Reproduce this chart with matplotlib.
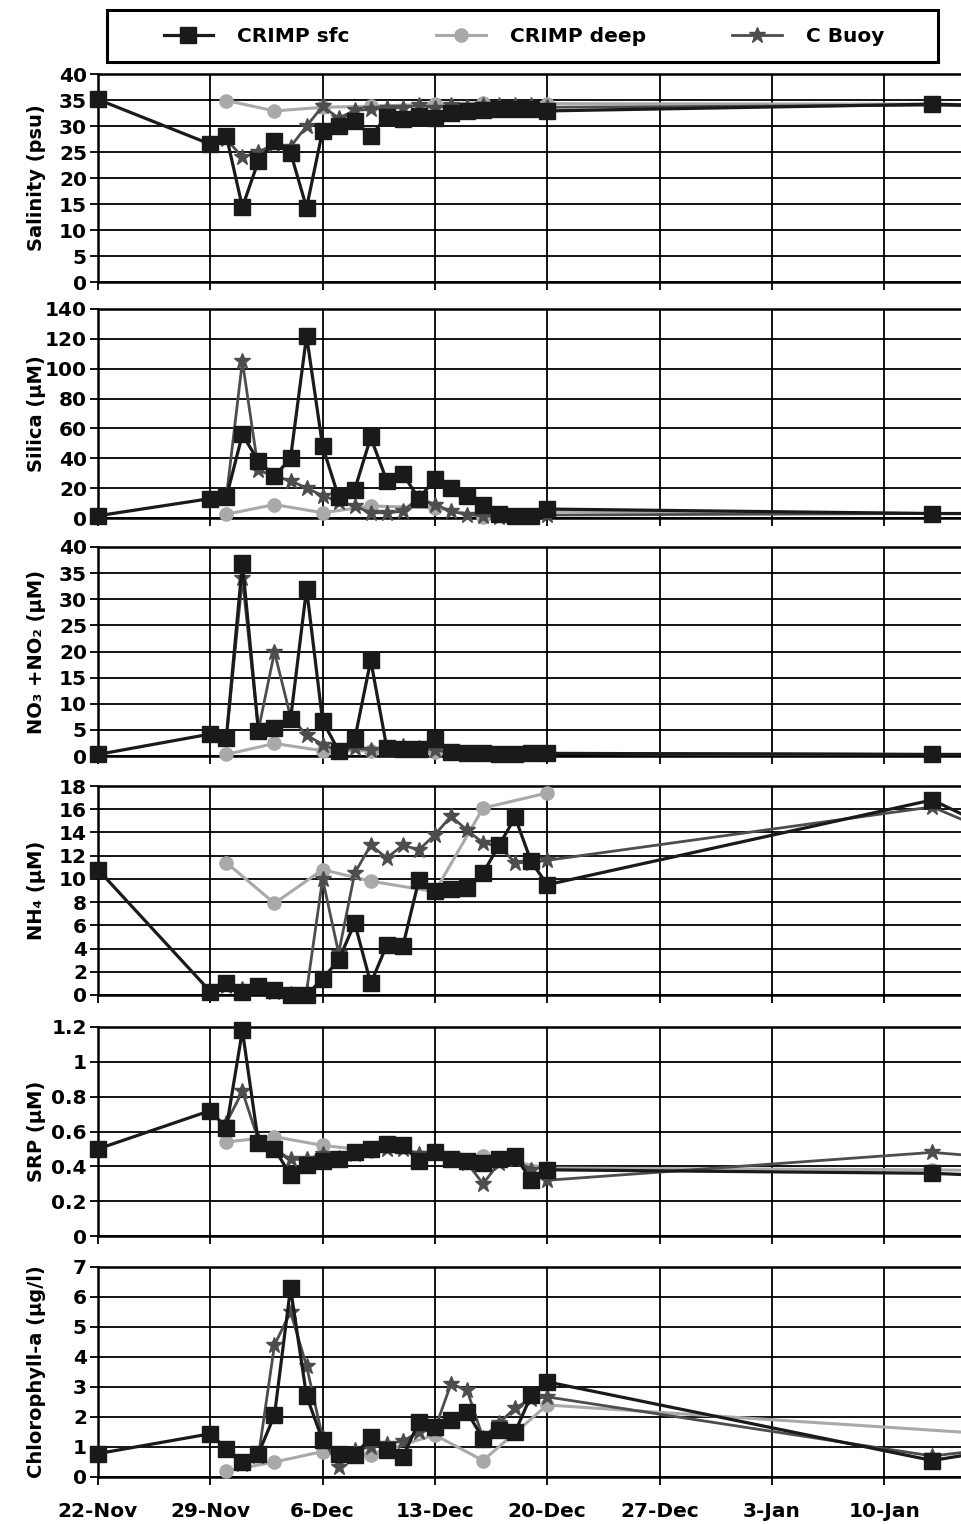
import numpy as np
import matplotlib.pyplot as plt
import matplotlib.dates as mdates
import matplotlib.ticker as mticker
from matplotlib.patches import Rectangle

plt.rcParams['font.family'] = ['DejaVu Sans']
plt.rcParams['font.weight'] = 'bold'
plt.rcParams['axes.labelweight'] = 'bold'

# sampling days, counted from 22-Nov (the 60 day value only carries the line off the right edge)
start = np.datetime64('2008-11-22')
days_sfc = np.array([0, 7, 8, 9, 10, 11, 12, 13, 14, 15, 16, 17, 18, 19, 20, 21, 22, 23, 24, 25, 26, 27, 28, 52, 60])
days_deep = np.array([8, 11, 14, 17, 21, 24, 28, 52, 60])
days_buoy = np.array([8, 9, 10, 11, 12, 13, 14, 15, 16, 17, 18, 19, 20, 21, 22, 23, 24, 25, 26, 27, 28, 52, 60])

tick_dates = ['2008-11-22', '2008-11-29', '2008-12-06', '2008-12-13', '2008-12-20',
              '2008-12-27', '2009-01-03', '2009-01-10']

series_names = ['CRIMP sfc', 'CRIMP deep', 'C Buoy']

# Salinity
sal_sfc = [35.1, 26.5, 28.1, 14.4, 23.3, 27.1, 24.9, 14.3, 29.1, 30.0, 31.0, 28.1, 31.8, 31.3,
           32.0, 31.6, 32.5, 32.9, 33.0, 33.2, 33.3, 33.3, 32.9, 34.2, 33.6]
sal_deep = [34.9, 32.9, 33.6, 33.8, 34.2, 34.5, 34.3, 34.2, 33.9]
sal_buoy = [27.5, 24.0, 25.0, 26.5, 26.0, 30.0, 33.8, 31.5, 33.0, 33.2, 33.5, 33.5, 34.0, 33.5,
            34.0, 33.6, 34.0, 34.0, 34.0, 34.0, 33.6, 34.0, 33.6]

# Silica
sil_sfc = [1.5, 13, 14, 56, 38, 28, 40, 122, 48, 14, 19, 54, 25, 29.5, 13, 26, 20, 14.6, 9, 3,
           1.5, 1.5, 6, 3, 3]
sil_deep = [2.5, 9, 3.5, 8, 7, 1, 4.5, 3, 3]
sil_buoy = [14, 105, 32, 28, 25, 20, 15, 11, 8, 3.5, 3.5, 4.5, 13.5, 9, 4.5, 2.3, 1.5, 1, 1, 1,
            2, 3, 3]

# NO3 + NO2
no3_sfc = [0.3, 4.2, 3.5, 36.9, 4.8, 5.4, 7.0, 32.0, 6.7, 1.0, 3.2, 18.3, 1.6, 1.3, 1.3, 3.2,
           0.8, 0.5, 0.5, 0.4, 0.4, 0.5, 0.5, 0.3, 0.3]
no3_deep = [0.3, 2.4, 1.0, 1.0, 0.8, 0.3, 0.5, 0.3, 0.3]
no3_buoy = [3.5, 34.0, 5.0, 19.9, 7.5, 4.0, 2.2, 1.0, 1.5, 1.2, 1.5, 2.0, 1.5, 1.2, 0.6, 0.5,
            0.4, 0.4, 0.4, 0.4, 0.5, 0.3, 0.3]

# NH4
nh4_sfc = [10.8, 0.3, 1.0, 0.3, 0.8, 0.4, 0.0, 0.0, 1.4, 3.0, 6.2, 1.0, 4.3, 4.2, 9.9, 9.0,
           9.1, 9.2, 10.5, 12.9, 15.3, 11.5, 9.5, 16.8, 11.5]
nh4_deep = [11.4, 7.9, 10.8, 9.8, 8.9, 16.1, 17.4, np.nan, np.nan]
nh4_buoy = [0.8, 0.5, 0.7, 0.3, 0.1, 0.3, 10.0, 3.6, 10.5, 12.9, 11.8, 12.9, 12.5, 13.8, 15.4,
            14.2, 13.1, 12.8, 11.4, 11.4, 11.6, 16.2, 11.5]

# SRP
srp_sfc = [0.50, 0.72, 0.62, 1.18, 0.535, 0.50, 0.35, 0.41, 0.43, 0.44, 0.48, 0.50, 0.53, 0.52,
           0.43, 0.48, 0.44, 0.43, 0.42, 0.44, 0.46, 0.32, 0.38, 0.36, 0.33]
srp_deep = [0.54, 0.57, 0.52, 0.49, 0.48, 0.46, 0.39, 0.38, 0.37]
srp_buoy = [0.65, 0.83, 0.55, 0.50, 0.44, 0.44, 0.47, 0.45, 0.47, 0.50, 0.50, 0.50, 0.47, 0.48,
            0.44, 0.42, 0.30, 0.42, 0.44, 0.38, 0.32, 0.48, 0.42]

# Chlorophyll-a
chl_sfc = [0.78, 1.44, 0.94, 0.50, 0.78, 2.06, 6.3, 2.7, 1.22, 0.78, 0.72, 1.33, 0.89, 0.67,
           1.83, 1.67, 1.9, 2.17, 1.28, 1.56, 1.5, 2.72, 3.17, 0.55, 1.25]
chl_deep = [0.2, 0.5, 0.85, 0.75, 1.4, 0.55, 2.4, np.nan, 1.28]
chl_buoy = [0.9, 0.45, 0.7, 4.4, 5.5, 3.7, 1.3, 0.35, 0.9, 1.0, 1.1, 1.2, 1.5, 1.6, 3.1, 2.9,
            1.3, 1.8, 2.3, 2.6, 2.67, 0.7, 1.2]

panels = [
    ('Salinity (psu)', 40, 5, sal_sfc, sal_deep, sal_buoy),
    ('Silica (μM)', 140, 20, sil_sfc, sil_deep, sil_buoy),
    ('NO₃ +NO₂ (μM)', 40, 5, no3_sfc, no3_deep, no3_buoy),
    ('NH₄ (μM)', 18, 2, nh4_sfc, nh4_deep, nh4_buoy),
    ('SRP (μM)', 1.2, 0.2, srp_sfc, srp_deep, srp_buoy),
    ('Chlorophyll-a (μg/l)', 7, 1, chl_sfc, chl_deep, chl_buoy),
]

# panel boxes in figure pixels (top, bottom), figure is 961 x 1524
boxes = [(74, 282), (309, 518), (547, 756), (786, 995), (1027, 1236), (1267, 1477)]

fig = plt.figure(figsize=(9.61, 15.24), dpi=100)
W, H = 961.0, 1524.0
left = 98 / W

styles = [
    dict(color='#1a1a1a', marker='s', markersize=11.5, linewidth=2.3, zorder=5),
    dict(color='#a9a9a9', marker='o', markersize=9.5, linewidth=2.2, zorder=3),
    dict(color='#4d4d4d', marker='*', markersize=12, linewidth=2.0, zorder=4),
]

xmin = start
xmax = start + np.timedelta64(int(53.8 * 24), 'h')
ticks = np.array(tick_dates, dtype='datetime64[D]')

axes = []
for i, (label, ymax, ystep, sfc, deep, buoy) in enumerate(panels):
    top, bot = boxes[i]
    ax = fig.add_axes([left, 1 - bot / H, 1 - left, (bot - top) / H])
    axes.append(ax)
    for days, vals, st in zip([days_sfc, days_deep, days_buoy], [sfc, deep, buoy], styles):
        vals = np.array(vals, dtype=float)
        ok = ~np.isnan(vals)
        dates = start + days[ok].astype('timedelta64[D]')
        ax.plot(dates, vals[ok], clip_on=False, **st)

    ax.set_xlim(xmin, xmax)
    ax.set_ylim(0, ymax)
    ax.set_yticks(np.arange(0, ymax + ystep / 2, ystep))
    ax.yaxis.set_major_formatter(mticker.FuncFormatter(lambda v, p: '%g' % round(v, 2)))
    ax.set_xticks(ticks)
    ax.xaxis.set_major_formatter(mdates.DateFormatter('%-d-%b'))
    ax.grid(True, color='black', linewidth=1.3, zorder=1)
    ax.set_axisbelow(True)
    ax.spines['right'].set_visible(False)
    for s in ['left', 'top', 'bottom']:
        ax.spines[s].set_linewidth(1.8)
    ax.tick_params(axis='both', direction='out', length=6, width=1.3, labelsize=14.5)
    ax.tick_params(axis='y', pad=2)
    ax.set_ylabel(label, fontsize=14)
    ax.yaxis.set_label_coords(-0.060, 0.5)
    if i < len(panels) - 1:
        ax.tick_params(axis='x', labelbottom=False)
    else:
        ax.tick_params(axis='x', pad=12)

# legend box across the top
fig.add_artist(Rectangle((107 / W, 1 - 62 / H), 831 / W, 52 / H, transform=fig.transFigure,
                         facecolor='white', edgecolor='black', linewidth=2.2))
handles = axes[0].get_lines()
fig.legend(handles, series_names, loc='center', bbox_to_anchor=(524 / W, 1 - 37 / H),
           ncol=3, fontsize=14.5, handlelength=2.45, handletextpad=1.2,
           columnspacing=4.3, frameon=False)

fig.savefig('out.png', dpi=100)
